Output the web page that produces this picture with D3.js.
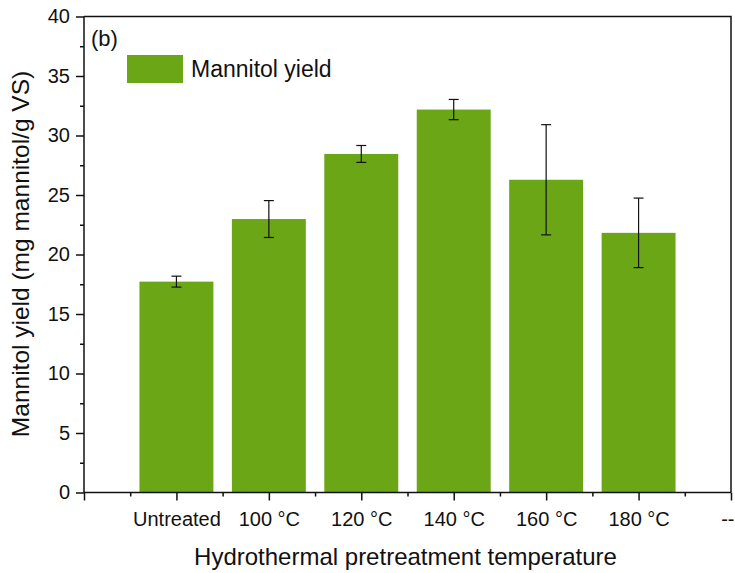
<!DOCTYPE html>
<html>
<head>
<meta charset="utf-8">
<script src="https://cdn.jsdelivr.net/npm/d3@7"></script>
<style>
  body { margin: 0; background: #fff; }
  svg text { font-family: "Liberation Sans", Arial, sans-serif; fill: #111; }
</style>
</head>
<body>
<div id="chart"></div>
<script>
// Mannitol yield per pretreatment temperature
const categories = ["Untreated", "100 °C", "120 °C", "140 °C", "160 °C", "180 °C"];
const yieldValues = [17.72, 22.98, 28.45, 32.18, 26.28, 21.82];
const yieldErrors = [0.46, 1.55, 0.71, 0.85, 4.63, 2.92];
const xTickLabels = ["", ...categories, "--"];
const yTicks = [0, 5, 10, 15, 20, 25, 30, 35, 40];

const width = 735, height = 573;
const margin = { top: 16.5, right: 4, bottom: 80.5, left: 84 };

const svg = d3.select("#chart").append("svg")
    .attr("width", width)
    .attr("height", height);

const x = d3.scaleLinear().domain([0, 7]).range([margin.left, width - margin.right]);
const y = d3.scaleLinear().domain([0, 40]).range([height - margin.bottom, margin.top]);
const barW = (x(1) - x(0)) * 0.8;
const green = "#6ba616";

// bars
svg.selectAll(".bar")
    .data(yieldValues)
    .enter().append("rect")
    .attr("class", "bar")
    .attr("x", (d, i) => x(i + 1) - barW / 2)
    .attr("y", d => y(d))
    .attr("width", barW)
    .attr("height", d => y(0) - y(d))
    .style("fill", green);

// error bars
const err = svg.selectAll(".err")
    .data(yieldValues)
    .enter().append("g")
    .attr("class", "err")
    .style("stroke", "#111")
    .style("stroke-width", "1.2px");

err.append("line")
    .attr("x1", (d, i) => x(i + 1)).attr("x2", (d, i) => x(i + 1))
    .attr("y1", (d, i) => y(d + yieldErrors[i]))
    .attr("y2", (d, i) => y(d - yieldErrors[i]));
err.append("line")
    .attr("x1", (d, i) => x(i + 1) - 5).attr("x2", (d, i) => x(i + 1) + 5)
    .attr("y1", (d, i) => y(d + yieldErrors[i]))
    .attr("y2", (d, i) => y(d + yieldErrors[i]));
err.append("line")
    .attr("x1", (d, i) => x(i + 1) - 5).attr("x2", (d, i) => x(i + 1) + 5)
    .attr("y1", (d, i) => y(d - yieldErrors[i]))
    .attr("y2", (d, i) => y(d - yieldErrors[i]));

// y axis
const yAxis = svg.append("g")
    .attr("transform", `translate(${margin.left},0)`)
    .call(d3.axisLeft(y).tickValues(yTicks).tickSize(8).tickPadding(6));
svg.append("g")
    .attr("transform", `translate(${margin.left},0)`)
    .call(d3.axisLeft(y).tickValues(d3.range(2.5, 40, 5)).tickSize(4).tickFormat(""))
    .select(".domain").remove();

// x axis
const xAxis = svg.append("g")
    .attr("transform", `translate(0,${y(0)})`)
    .call(d3.axisBottom(x).tickValues(d3.range(0, 8)).tickSize(8).tickPadding(11)
        .tickFormat(i => xTickLabels[i]));
svg.append("g")
    .attr("transform", `translate(0,${y(0)})`)
    .call(d3.axisBottom(x).tickValues(d3.range(0.5, 7, 1)).tickSize(4).tickFormat(""))
    .select(".domain").remove();

svg.selectAll(".tick text").style("font-size", "20px").style("fill", "#111");
// last label sits at the right edge; keep it inside the picture
xAxis.selectAll(".tick text").filter(d => d === 7).attr("text-anchor", "end").attr("dx", 3);
svg.selectAll(".domain, .tick line").style("stroke", "#111").style("stroke-width", "1.5px");
yAxis.select(".domain").attr("d", `M0,${margin.top}V${y(0)}`);
xAxis.select(".domain").attr("d", `M${margin.left},0H${width - margin.right}`);

// top and right frame
svg.append("path")
    .attr("d", `M${margin.left},${margin.top}H${width - margin.right}V${y(0)}`)
    .style("fill", "none")
    .style("stroke", "#111")
    .style("stroke-width", "1.5px");

// axis titles
svg.append("text")
    .attr("x", (margin.left + width - margin.right) / 2 - 2)
    .attr("y", 565)
    .attr("text-anchor", "middle")
    .style("font-size", "24px")
    .text("Hydrothermal pretreatment temperature");

svg.append("text")
    .attr("transform", "translate(29,254) rotate(-90)")
    .attr("text-anchor", "middle")
    .style("font-size", "24.5px")
    .text("Mannitol yield (mg mannitol/g VS)");

// panel label and legend
svg.append("text")
    .attr("x", 91).attr("y", 46)
    .style("font-size", "22px")
    .text("(b)");

svg.append("rect")
    .attr("x", 127).attr("y", 55)
    .attr("width", 56).attr("height", 28)
    .style("fill", green);
svg.append("text")
    .attr("x", 191).attr("y", 77)
    .style("font-size", "23px")
    .text("Mannitol yield");
</script>
</body>
</html>
